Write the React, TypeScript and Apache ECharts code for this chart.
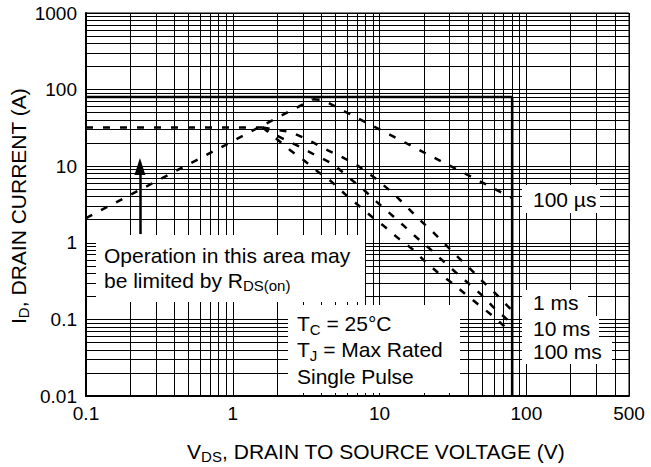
import { useEffect, useRef } from "react";
import * as echarts from "echarts";

const FONT = "'Liberation Sans', Arial, Helvetica, sans-serif";

// Axis tick labels
const xTickValues = [0.1, 1, 10, 100, 500];
const yTickValues = [0.01, 0.1, 1, 10, 100, 1000];

// Grid decades (log paper, lines at 1..9 × decade)
const xDecades = [0.1, 1, 10, 100];
const yDecades = [0.01, 0.1, 1, 10, 100];
const gridMultipliers = [1, 2, 3, 4, 5, 6, 7, 8, 9];

// 32 A limit (dashed plateau)
const plateauV = [0.1, 1.6];
const plateauI = [32, 32];

// R_DS(on) limit line
const rdsV = [0.1, 3.5];
const rdsI = [2.1, 75];

// 100 µs
const us100V = [3.5, 4.1, 80];
const us100I = [75, 73, 3.85];

// 1 ms
const ms1V = [1.6, 2.45, 3.2, 4.11, 5.2, 7.0, 9.3, 12.3, 15.4, 18.5, 22.7, 27.9, 34.2, 41.3, 50.6, 62, 80];
const ms1I = [32, 28, 22.6, 17.3, 14, 10.4, 7.0, 4.47, 2.93, 2.05, 1.43, 0.96, 0.65, 0.46, 0.31, 0.215, 0.13];

// 10 ms
const ms10V = [1.6, 2.0, 2.78, 3.63, 4.82, 6.28, 7.83, 9.6, 11.8, 14.4, 17.7, 21.7, 26.5, 32.8, 40, 49.6, 59.5, 73.4, 80];
const ms10I = [32, 25, 18.4, 14, 10.7, 6.9, 4.89, 3.4, 2.4, 1.71, 1.19, 0.855, 0.6, 0.416, 0.3, 0.208, 0.145, 0.101, 0.092];

// 100 ms
const ms100V = [1.6, 2.45, 3.09, 3.82, 4.65, 5.8, 8.9, 10.9, 13.3, 16.7, 20.3, 24.9, 31, 37.8, 46.6, 58, 71.5, 80];
const ms100I = [32, 16.3, 11.7, 8.4, 6.4, 4.34, 2.17, 1.61, 1.16, 0.83, 0.578, 0.41, 0.3, 0.22, 0.159, 0.114, 0.08, 0.068];

// Solid max limits (80 A / 80 V)
const limitV = [0.1, 80, 80];
const limitI = [80, 80, 0.01];

// Arrow pointing up
const arrowV = [0.233, 0.233];
const arrowI = [1.3, 9.9];

const zip = (xs: number[], ys: number[]) => xs.map((x, i) => [x, ys[i]]);

export default function App() {
  const ref = useRef<HTMLDivElement>(null);

  useEffect(() => {
    if (!ref.current) return;
    const chart = echarts.init(ref.current, undefined, { renderer: "svg" });

    const xGrid = xDecades.flatMap((d) => gridMultipliers.map((m) => d * m)).concat([500]);
    const yGrid = yDecades.flatMap((d) => gridMultipliers.map((m) => d * m)).concat([1000]);

    const dashed = { color: "#000", width: 2.5, type: [7, 10] as number[] };
    const mainRich = (lh: number) => ({
      a: { fontSize: 21, lineHeight: lh, fontFamily: FONT, fill: "#000" },
      s: { fontSize: 15, lineHeight: 15, padding: [lh - 15, 0, 0, 0], fontFamily: FONT, fill: "#000" },
    });
    const lineSeries = (data: number[][], style: any, z: number) => ({
      type: "line",
      data,
      showSymbol: false,
      symbol: "none",
      silent: true,
      lineStyle: style,
      z,
      emphasis: { disabled: true },
    });

    const labelBox = (x: number, y: number, w: number, h: number) => ({
      type: "rect",
      z: 100,
      shape: { x, y, width: w, height: h },
      style: { fill: "#fff" },
    });
    const plainText = (x: number, cy: number, text: string) => ({
      type: "text",
      z: 101,
      x,
      y: cy,
      style: { text, font: `21px ${FONT}`, fill: "#000", align: "left", verticalAlign: "middle" },
    });

    chart.setOption({
      animation: false,
      grid: {
        left: 86,
        top: 13,
        right: 22,
        bottom: 71,
        show: true,
        borderColor: "#000",
        borderWidth: 1,
        outerBoundsMode: "none",
      },
      xAxis: {
        type: "log",
        logBase: 10,
        min: 0.1,
        max: 500,
        axisLine: { show: true, onZero: false, lineStyle: { color: "#000", width: 2 } },
        axisTick: { show: false },
        splitLine: { show: false },
        axisLabel: {
          customValues: xTickValues,
          formatter: (v: number) => String(v),
          color: "#000",
          fontSize: 19,
          fontFamily: FONT,
          margin: 8,
        },
      },
      yAxis: {
        type: "log",
        logBase: 10,
        min: 0.01,
        max: 1000,
        axisLine: { show: true, onZero: false, lineStyle: { color: "#000", width: 2 } },
        axisTick: { show: false },
        splitLine: { show: false },
        axisLabel: {
          customValues: yTickValues,
          formatter: (v: number) => String(v),
          color: "#000",
          fontSize: 19,
          fontFamily: FONT,
          margin: 9,
        },
      },
      series: [
        {
          type: "line",
          data: [],
          silent: true,
          z: 1,
          markLine: {
            silent: true,
            symbol: ["none", "none"],
            label: { show: false },
            emphasis: { disabled: true },
            lineStyle: { color: "#000", width: 1, type: "solid" },
            data: [
              ...xGrid.map((v) => ({ xAxis: v })),
              ...yGrid.map((v) => ({ yAxis: v })),
            ],
          },
        },
        lineSeries(zip(plateauV, plateauI), dashed, 3),
        lineSeries(zip(rdsV, rdsI), dashed, 3),
        lineSeries(zip(us100V, us100I), dashed, 3),
        lineSeries(zip(ms1V, ms1I), dashed, 3),
        lineSeries(zip(ms10V, ms10I), dashed, 3),
        lineSeries(zip(ms100V, ms100I), dashed, 3),
        lineSeries(zip(limitV, limitI), { color: "#000", width: 2.6 }, 4),
        {
          type: "line",
          data: [],
          silent: true,
          z: 5,
          markLine: {
            silent: true,
            symbol: ["none", "triangle"],
            symbolSize: [11, 17],
            label: { show: false },
            emphasis: { disabled: true },
            lineStyle: { color: "#000", width: 2.5, type: "solid" },
            itemStyle: { color: "#000" },
            data: [
              [
                { coord: [arrowV[0], arrowI[0]] },
                { coord: [arrowV[1], arrowI[1]] },
              ],
            ],
          },
        },
      ],
      graphic: [
        labelBox(96, 235, 269, 67),
        labelBox(288, 305, 172, 88),
        labelBox(522, 185, 78, 28),
        labelBox(522, 290, 66, 26),
        labelBox(522, 316, 77, 23),
        labelBox(522, 339, 90, 25),
        {
          type: "text",
          z: 101,
          x: 104,
          y: 243,
          style: {
            text: "{a|Operation in this area may}\n{a|be limited by R}{s|DS(on)}",
            rich: mainRich(25),
            font: `21px ${FONT}`,
            fill: "#000",
            align: "left",
            verticalAlign: "top",
          },
        },
        {
          type: "text",
          z: 101,
          x: 297,
          y: 310,
          style: {
            text: "{a|T}{s|C}{a| = 25°C}\n{a|T}{s|J}{a| = Max Rated}\n{a|Single Pulse}",
            rich: mainRich(26.5),
            font: `21px ${FONT}`,
            fill: "#000",
            align: "left",
            verticalAlign: "top",
          },
        },
        plainText(533, 199, "100 µs"),
        plainText(533, 302, "1 ms"),
        plainText(533, 328, "10 ms"),
        plainText(533, 351, "100 ms"),
        {
          type: "text",
          z: 101,
          x: 376,
          y: 451,
          style: {
            text: "{a|V}{s|DS}{a|, DRAIN TO SOURCE VOLTAGE (V)}",
            rich: mainRich(26),
            font: `21px ${FONT}`,
            fill: "#000",
            align: "center",
            verticalAlign: "middle",
          },
        },
        {
          type: "text",
          z: 101,
          x: 18,
          y: 206,
          rotation: Math.PI / 2,
          style: {
            text: "{a|I}{s|D}{a|, DRAIN CURRENT (A)}",
            rich: mainRich(26),
            font: `21px ${FONT}`,
            fill: "#000",
            align: "center",
            verticalAlign: "middle",
          },
        },
      ],
    });

    return () => chart.dispose();
  }, []);

  return (
    <div
      ref={ref}
      style={{ position: "fixed", left: 0, top: 0, width: 651, height: 467, background: "#fff" }}
    />
  );
}
